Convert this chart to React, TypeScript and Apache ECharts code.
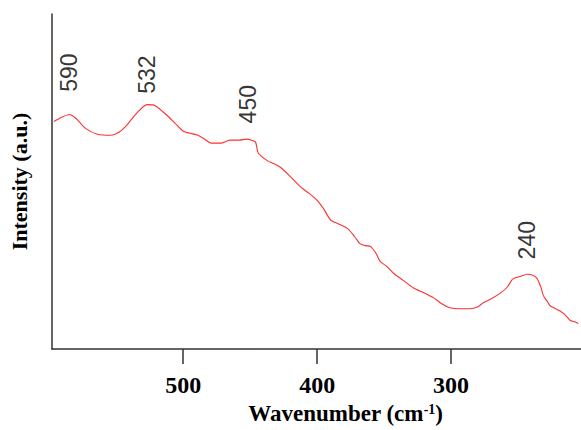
import React, { useEffect, useRef } from "react";
import * as echarts from "echarts";

const wavenumber = [
  596.5, 591, 585, 580, 573, 564, 554, 548, 543, 535,
  527, 521, 512, 506, 500, 495, 489, 484, 479, 472,
  465, 458, 453, 449, 446, 444, 437, 432, 427, 420,
  412, 406, 400, 395, 390, 384, 377, 372, 368, 364,
  360, 356, 353, 348, 343, 336, 328, 320, 313, 307,
  301, 294, 286, 280, 276, 270, 263, 258, 254, 248,
  243, 239, 236, 233, 231, 228, 226, 222, 219, 215,
  211, 208, 205,
];
const intensity = [
  231, 235, 238, 234, 224, 218, 217, 220, 226, 239,
  248, 247, 237, 229, 221, 219, 217, 213, 209, 209,
  212, 212, 213, 212, 210, 199, 191, 188, 184, 175,
  164, 158, 151, 142, 131, 127, 122, 114, 107, 105,
  104, 97, 89, 84, 77, 70, 62, 57, 52, 46,
  42, 41, 41, 43, 47, 51, 57, 63, 71, 74,
  76, 75, 72, 63, 54, 48, 44, 41, 39, 35,
  29, 28, 26,
];

const xTicks = [500, 400, 300];
const peakLabels = ["590", "532", "450", "240"];
const peakLabelX = [585, 527, 452, 243];
const peakLabelBase = [261, 259, 229, 91];

export default function App() {
  const ref = useRef<HTMLDivElement>(null);
  useEffect(() => {
    document.body.style.margin = "0";
    if (!ref.current) return;
    const chart = echarts.init(ref.current, null, { renderer: "svg" });
    const axisColor = "#333";
    chart.setOption({
      animation: false,
      backgroundColor: "#fff",
      grid: { left: 51, right: 0, top: 14, bottom: 76, containLabel: false },
      xAxis: {
        type: "value",
        inverse: true,
        min: 203,
        max: 598,
        name: "Wavenumber (cm{sup|-1})",
        nameLocation: "middle",
        nameGap: 52,
        nameTextStyle: {
          fontFamily: "Liberation Serif",
          fontWeight: "bold",
          fontSize: 23,
          color: "#000",
          padding: [0, 0, 0, 58],
          rich: {
            sup: {
              fontFamily: "Liberation Serif",
              fontWeight: "bold",
              fontSize: 14,
              color: "#000",
              verticalAlign: "top",
              padding: [0, 0, 9, 0],
            },
          },
        },
        axisLine: { show: true, lineStyle: { color: axisColor, width: 1.5 } },
        axisTick: {
          show: true,
          inside: false,
          length: 15,
          customValues: xTicks,
          lineStyle: { color: axisColor, width: 1.5 },
        },
        axisLabel: {
          show: true,
          customValues: xTicks,
          margin: 24,
          fontFamily: "Liberation Serif",
          fontWeight: "bold",
          fontSize: 24,
          color: "#000",
        },
        splitLine: { show: false },
      },
      yAxis: {
        type: "value",
        min: 0,
        max: 340,
        name: "Intensity (a.u.)",
        nameLocation: "middle",
        nameGap: 22,
        nameTextStyle: {
          fontFamily: "Liberation Serif",
          fontWeight: "bold",
          fontSize: 22,
          color: "#000",
        },
        axisLine: { show: true, lineStyle: { color: axisColor, width: 1.5 } },
        axisTick: { show: false },
        axisLabel: { show: false },
        splitLine: { show: false },
      },
      series: [
        {
          type: "line",
          data: wavenumber.map((w, i) => [w, intensity[i]]),
          showSymbol: false,
          symbol: "none",
          smooth: 0.25,
          lineStyle: { color: "#ff3030", width: 1.1 },
          silent: true,
        },
        {
          type: "scatter",
          symbolSize: 0,
          silent: true,
          data: peakLabels.map((t, i) => ({
            value: [peakLabelX[i], peakLabelBase[i]],
            name: t,
          })),
          label: {
            show: true,
            position: "inside",
            rotate: 90,
            align: "left",
            verticalAlign: "middle",
            formatter: (p: any) => p.name,
            fontFamily: "Liberation Sans",
            fontSize: 23,
            color: "#000",
          },
        },
      ],
    });
    return () => chart.dispose();
  }, []);
  return <div ref={ref} style={{ width: 581, height: 430 }} />;
}
